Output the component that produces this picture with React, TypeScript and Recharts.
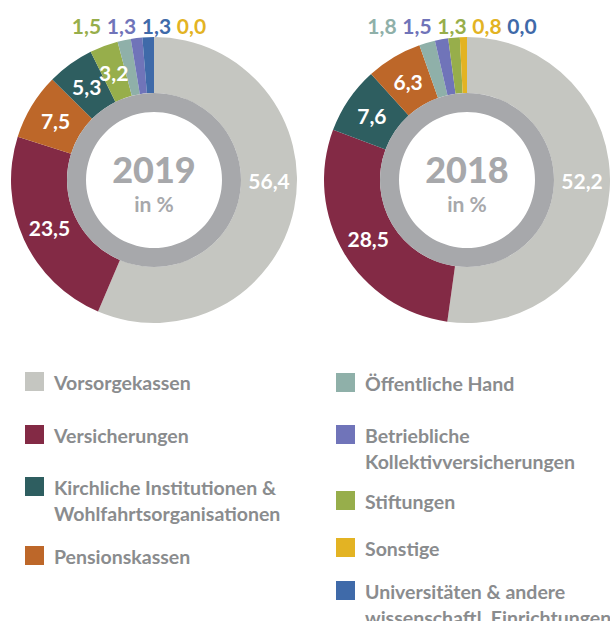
import { PieChart, Pie, Cell } from "recharts";

// category ids, colours and legend texts
const colors: Record<string, string> = {
  vk: "#c5c6c1",
  vs: "#832a45",
  ki: "#2e5e60",
  pk: "#bd6729",
  oh: "#8fb0a9",
  bk: "#7074b9",
  st: "#97ae4b",
  so: "#e3b323",
  un: "#3f6aa9",
};
const labels: Record<string, string[]> = {
  vk: ["Vorsorgekassen"],
  vs: ["Versicherungen"],
  ki: ["Kirchliche Institutionen &", "Wohlfahrtsorganisationen"],
  pk: ["Pensionskassen"],
  oh: ["Öffentliche Hand"],
  bk: ["Betriebliche", "Kollektivversicherungen"],
  st: ["Stiftungen"],
  so: ["Sonstige"],
  un: ["Universitäten & andere", "wissenschaftl. Einrichtungen"],
};

// slice order (clockwise from 12 o'clock) and values per year
const order2019 = ["vk", "vs", "pk", "ki", "st", "oh", "bk", "un", "so"];
const values2019 = [56.4, 23.5, 7.5, 5.3, 3.2, 1.5, 1.3, 1.3, 0.0];
const labelColors2019: Record<string, string> = { oh: "#97ae4b" };

const order2018 = ["vk", "vs", "ki", "pk", "oh", "bk", "st", "so", "un"];
const values2018 = [52.2, 28.5, 7.6, 6.3, 1.8, 1.5, 1.3, 0.8, 0.0];

const legendLeft = ["vk", "vs", "ki", "pk"];
const legendRight = ["oh", "bk", "st", "so", "un"];
const legendTopsLeft = [370, 423, 475, 544];
const legendTopsRight = [371, 423, 489, 536, 579];

const RAD = Math.PI / 180;
const SMALL = 2;
const fmt = (v: number) => v.toFixed(1).replace(".", ",");
const font = "Lato, 'Open Sans', sans-serif";

function build(order: string[], values: number[], overrides: Record<string, string> = {}) {
  return order.map((id, i) => ({
    id,
    value: values[i],
    color: colors[id],
    labelColor: overrides[id] ?? colors[id],
  }));
}

const data2019 = build(order2019, values2019, labelColors2019);
const data2018 = build(order2018, values2018);

// big slices get their value inside the ring, small ones in a row above the chart
function makeLabel(data: ReturnType<typeof build>) {
  const small = data.filter((d) => d.value < SMALL);
  return (props: any) => {
    const { cx, cy, midAngle, innerRadius, outerRadius, index } = props;
    const d = data[index];
    if (d.value >= SMALL) {
      // the majority slice is labelled at 3 o'clock
      const angle = d.value > 50 ? 0 : midAngle;
      const r = (innerRadius + outerRadius) / 2;
      const x = cx + r * Math.cos(-angle * RAD);
      const y = cy + r * Math.sin(-angle * RAD);
      return (
        <text key={d.id} x={x} y={y} textAnchor="middle" dominantBaseline="central" fill="#fff" fontFamily={font} fontWeight={700} fontSize={21}>
          {fmt(d.value)}
        </text>
      );
    }
    const k = small.indexOf(d);
    const x = cx - 15 + (k - (small.length - 1) / 2) * 35;
    return (
      <text key={d.id} x={x} y={cy - 155} textAnchor="middle" dominantBaseline="central" fill={d.labelColor} fontFamily={font} fontWeight={700} fontSize={21}>
        {fmt(d.value)}
      </text>
    );
  };
}

function centerLabel(year: string) {
  return (props: any) => (
    <g key={year}>
      <text x={props.cx} y={props.cy - 11} textAnchor="middle" dominantBaseline="central" fill="#a7a8ab" fontFamily={font} fontWeight={900} fontSize={36}>
        {year}
      </text>
      <text x={props.cx} y={props.cy + 23} textAnchor="middle" dominantBaseline="central" fill="#a7a8ab" fontFamily={font} fontWeight={700} fontSize={21}>
        in %
      </text>
    </g>
  );
}

function LegendColumn({ items, tops, left }: { items: string[]; tops: number[]; left: number }) {
  return (
    <>
      {items.map((id, i) => (
        <div key={id} style={{ position: "absolute", left, top: tops[i], display: "flex", alignItems: "flex-start" }}>
          <div style={{ width: 19, height: 19, marginTop: 2, marginRight: 10, background: colors[id], flexShrink: 0 }} />
          <div style={{ fontSize: 19.5, lineHeight: "26px", fontWeight: 700, color: "#8a8c8e", whiteSpace: "nowrap" }}>
            {labels[id].map((l) => (
              <div key={l}>{l}</div>
            ))}
          </div>
        </div>
      ))}
    </>
  );
}

export default function App() {
  const ring = [{ value: 1 }];
  return (
    <div style={{ position: "relative", width: 610, height: 621, overflow: "hidden", background: "#fff", fontFamily: font }}>
      <style>{"body{margin:0;overflow:hidden}"}</style>
      <PieChart width={610} height={345} margin={{ top: 0, right: 0, bottom: 0, left: 0 }} style={{ position: "absolute", left: 0, top: 0 }}>
        {[
          { data: data2019, cx: 154, year: "2019" },
          { data: data2018, cx: 467, year: "2018" },
        ].map(({ data, cx, year }) => [
          <Pie
            key={year + "s"}
            data={data}
            dataKey="value"
            cx={cx}
            cy={180}
            innerRadius={87}
            outerRadius={143}
            startAngle={90}
            endAngle={-270}
            stroke="none"
            labelLine={false}
            label={makeLabel(data)}
            isAnimationActive={false}
          >
            {data.map((d) => (
              <Cell key={d.id} fill={d.color} />
            ))}
          </Pie>,
          <Pie
            key={year + "r"}
            data={ring}
            dataKey="value"
            cx={cx}
            cy={180}
            innerRadius={68}
            outerRadius={87}
            fill="#a7a8ab"
            stroke="none"
            labelLine={false}
            label={centerLabel(year)}
            isAnimationActive={false}
          />,
        ])}
      </PieChart>
      <LegendColumn items={legendLeft} tops={legendTopsLeft} left={25} />
      <LegendColumn items={legendRight} tops={legendTopsRight} left={336} />
    </div>
  );
}
